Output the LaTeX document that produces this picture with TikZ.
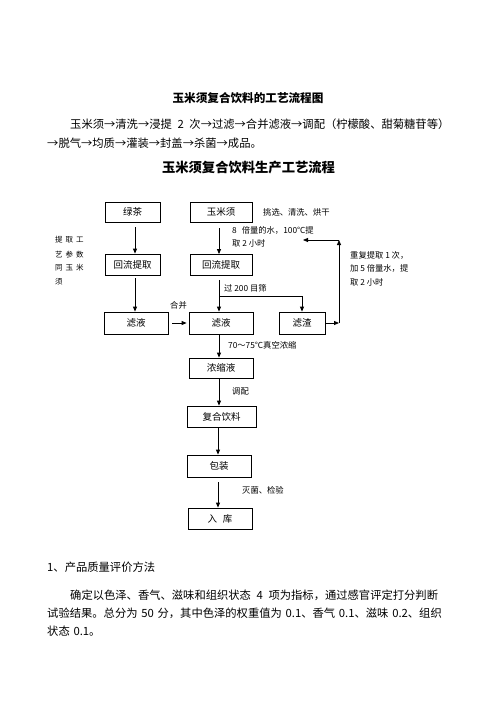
\documentclass[tikz,border=0pt]{standalone}
\usepackage{fontspec}
\setmainfont{Noto Sans CJK SC}
\usetikzlibrary{arrows.meta}
\newcommand\hsw{\hspace{0.5em}}
\newcommand\hsn{\hspace{0.33em}}
\begin{document}
\begin{tikzpicture}[x=1pt,y=-1pt,
  box/.style={draw, line width=0.8pt, inner sep=0pt, font=\fontsize{9.5}{11}\selectfont},
  lab/.style={inner sep=0pt, anchor=west, font=\fontsize{8.3}{10}\selectfont},
  side/.style={inner sep=0pt, anchor=west, font=\fontsize{7.5}{9}\selectfont},
  arr/.style={-{Triangle[length=5pt,width=4pt]}, line width=0.8pt},
  body/.style={inner sep=0pt, anchor=west, font=\fontsize{11.3}{13}\selectfont},
  ttl/.style={inner sep=0pt, font=\fontsize{11.6}{13}\selectfont\bfseries},
  ttlb/.style={inner sep=0pt, font=\fontsize{13.3}{15}\selectfont\bfseries}]
\useasboundingbox (0,0) rectangle (496,702);

% top text
\node[ttl] (t1) at (248,98) {玉米须复合饮料的工艺流程图};
\node[body] (p1) at (70,124) {玉米须→清洗→浸提\hsw 2\hsw 次→过滤→合并滤液→调配（柠檬酸、甜菊糖苷等）};
\node[body] (p2) at (47,143) {→脱气→均质→灌装→封盖→杀菌→成品。};
\node[ttlb] (t2) at (248.5,168) {玉米须复合饮料生产工艺流程};

% boxes
\node[box, minimum width=55pt, minimum height=20pt] (lvcha) at (132.5,212) {绿茶};
\node[box, minimum width=62pt, minimum height=20pt] (ymx) at (221,212) {玉米须};
\node[box, minimum width=55pt, minimum height=21pt] (hl1) at (132.5,264.5) {回流提取};
\node[box, minimum width=62pt, minimum height=21pt] (hl2) at (221,265) {回流提取};
\node[box, minimum width=64pt, minimum height=22pt] (ly1) at (136,323) {滤液};
\node[box, minimum width=64pt, minimum height=22pt] (ly2) at (221,323) {滤液};
\node[box, minimum width=46pt, minimum height=22pt] (lz) at (302,323) {滤渣};
\node[box, minimum width=64pt, minimum height=20pt] (nsy) at (221,368) {浓缩液};
\node[box, minimum width=69pt, minimum height=21pt] (fhyl) at (221.5,416.5) {复合饮料};
\node[box, minimum width=64pt, minimum height=22pt] (bz) at (219,466) {包装};
\node[box, minimum width=64pt, minimum height=21pt] (rk) at (220,518.5) {入\hspace{0.6em}库};

% labels
\node[lab] (l1) at (263,212) {挑选、清洗、烘干};
\node[lab] (l2) at (232,230) {8\hspace{0.6em}倍量的水，100℃提};
\node[lab] (l3) at (232,243) {取 2 小时};
\node[lab] (l4) at (224,288) {过 200 目筛};
\node[lab] (l5) at (170,305) {合并};
\node[lab] (l6) at (350,255) {重复提取 1 次，};
\node[lab] (l7) at (350,268) {加 5 倍量水，提};
\node[lab] (l8) at (350,282) {取 2 小时};
\node[lab] (l9) at (228,345) {70～75℃真空浓缩};
\node[lab] (l10) at (232,391) {调配};
\node[lab] (l11) at (242,490) {灭菌、检验};
\node[side] (s1) at (55,240) {提\hspace{3pt}取\hspace{3pt}工};
\node[side] (s2) at (55,255) {艺\hspace{3pt}参\hspace{3pt}数};
\node[side] (s3) at (55,268) {同\hspace{3pt}玉\hspace{3pt}米};
\node[side] (s4) at (55,282) {须};

% connectors
\draw[arr] ([xshift=2.5pt,yshift=-5pt]lvcha.south) -- ([xshift=2.5pt]hl1.north);
\draw[arr] ([xshift=-2pt,yshift=-6pt]ymx.south) -- ([xshift=-2pt]hl2.north);
\draw[arr] ([xshift=2.5pt,yshift=-3pt]hl1.south) -- ([xshift=-1pt]ly1.north);
\draw[arr] ([xshift=-2pt,yshift=-4pt]hl2.south) -- ([xshift=-2pt]ly2.north);
\draw[arr] ([xshift=-2pt,yshift=15pt]ly2.north) -| (lz.north);
\draw[arr] ([xshift=4pt]ly1.east) -- ([xshift=-2pt]ly2.west);
\coordinate (c1) at (339,323);
\coordinate (c2) at (339,240);
\coordinate (c3) at (303,240);
\draw[arr] (lz.east) -- (c1);
\draw[arr] (c1) -- (c2);
\draw[arr] (c2) -- (c3);
\draw[arr] ([xshift=-2pt,yshift=-1pt]ly2.south) -- ([xshift=-2pt]nsy.north);
\draw[arr] ([xshift=-2pt]nsy.south) -- ([xshift=-2.5pt]fhyl.north);
\draw[arr] ([xshift=-3.5pt]fhyl.south) -- ([xshift=-1pt]bz.north);
\draw[arr] ([xshift=-1pt,yshift=-5pt]bz.south) -- ([xshift=-2pt]rk.north);

% bottom text
\node[body] (b1) at (47,567) {1、产品质量评价方法};
\node[body] (b2) at (70,595) {确定以色泽、香气、滋味和组织状态\hsw 4\hsw 项为指标，通过感官评定打分判断};
\node[body] (b3) at (47,613) {试验结果。总分为\hsn 50\hsn 分，其中色泽的权重值为\hsn 0.1、香气\hsn 0.1、滋味\hsn 0.2、组织};
\node[body] (b4) at (47,631) {状态\hsn 0.1。};
\end{tikzpicture}
\end{document}
